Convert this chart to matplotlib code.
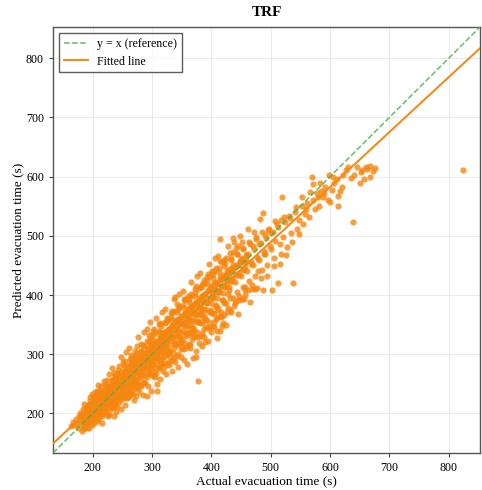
import numpy as np
import matplotlib.pyplot as plt

plt.rcParams['font.family'] = ['Liberation Serif', 'DejaVu Serif']

# (actual, predicted) evacuation times in seconds
points_a = [
    (163, 178), (166, 186), (168, 181),
    (171, 190), (173, 182), (175, 176), (176, 195), (178, 187), (179, 200),
    (181, 184), (182, 196), (183, 175), (184, 191), (185, 176), (186, 203), (187, 188), (188, 197), (189, 182), (189, 209),
    (190, 194), (191, 206), (192, 185), (193, 176), (193, 214), (194, 199), (195, 190), (196, 208), (196, 222), (197, 195),
    (198, 203), (198, 181), (199, 215), (199, 197),
    (200, 205), (201, 218), (201, 192), (202, 226), (203, 208), (204, 199), (204, 214), (205, 231), (206, 204), (206, 188),
    (207, 220), (208, 212), (208, 197), (209, 225), (209, 207), (210, 216),
    (210, 210), (211, 224), (211, 199), (212, 232), (212, 215), (213, 206), (214, 228), (214, 219), (215, 195), (215, 238),
    (216, 212), (216, 225), (217, 203), (218, 220), (218, 234), (219, 213), (219, 227), (219, 208),
    (220, 222), (220, 236), (221, 214), (222, 241), (222, 228), (223, 207), (224, 232), (224, 219), (225, 246), (225, 226),
    (226, 212), (227, 238), (227, 224), (228, 230), (228, 215), (229, 244), (229, 222), (226, 195),
    (230, 233), (230, 248), (231, 221), (232, 239), (232, 229), (233, 256), (233, 212), (234, 243), (235, 235), (235, 224),
    (236, 251), (236, 196), (237, 240), (237, 230), (238, 217), (238, 262), (239, 245), (239, 236),
    (240, 241), (240, 253), (241, 229), (242, 258), (242, 245), (243, 222), (244, 250), (244, 238), (245, 266), (246, 247),
    (246, 231), (247, 256), (247, 208), (248, 243), (249, 272), (249, 252),
    (250, 249), (250, 262), (251, 238), (252, 268), (252, 255), (253, 230), (254, 261), (254, 245), (255, 280), (256, 253),
    (256, 241), (257, 270), (258, 258), (258, 226), (259, 264), (259, 249),
    (260, 259), (260, 274), (261, 247), (262, 283), (262, 265), (263, 238), (264, 271), (264, 256), (265, 292), (266, 262),
    (266, 249), (267, 279), (268, 268), (268, 232), (269, 275), (269, 255),
    (270, 269), (270, 286), (271, 252), (272, 294), (272, 276), (273, 230), (274, 281), (274, 262), (275, 302), (276, 271),
    (277, 258), (277, 289), (278, 276), (279, 247), (279, 283),
    (280, 278), (280, 293), (281, 262), (282, 305), (282, 286), (283, 270), (284, 297), (284, 252), (285, 282), (286, 313),
    (286, 275), (287, 291), (288, 264), (288, 285), (289, 300),
    (290, 288), (290, 302), (291, 229), (292, 311), (292, 280), (293, 295), (294, 268), (294, 320), (295, 289), (296, 354),
    (296, 304), (297, 276), (297, 296), (298, 315), (299, 284),
    (300, 298), (300, 312), (301, 283), (302, 326), (302, 305), (303, 270), (304, 318), (304, 293), (305, 336), (306, 301),
    (307, 285), (307, 313), (308, 237), (309, 307),
    (310, 304), (310, 322), (311, 290), (312, 340), (312, 314), (313, 278), (314, 327), (314, 300), (315, 348), (316, 311),
    (317, 292), (317, 331), (318, 318), (319, 305),
    (320, 313), (320, 333), (321, 297), (322, 352), (322, 324), (323, 285), (324, 338), (324, 309), (325, 361), (326, 320),
    (327, 302), (328, 343), (329, 327),
    (330, 322), (330, 345), (331, 306), (332, 362), (332, 334), (333, 290), (334, 350), (335, 318), (336, 371), (336, 329),
    (337, 311), (338, 396), (339, 341),
    (340, 331), (340, 355), (341, 316), (342, 372), (343, 343), (344, 300), (345, 360), (345, 327), (346, 382), (347, 338),
    (348, 320), (349, 352),
    (350, 340), (350, 365), (351, 326), (352, 383), (353, 352), (354, 309), (355, 369), (355, 336), (356, 391), (357, 347),
    (358, 330), (359, 361),
    (360, 349), (360, 374), (361, 334), (362, 394), (363, 362), (364, 318), (365, 378), (365, 345), (366, 402), (367, 356),
    (368, 339), (369, 370),
    (370, 358), (370, 384), (371, 343), (372, 404), (373, 371), (374, 330), (375, 388), (376, 354), (377, 254), (377, 410),
    (378, 366), (379, 379),
    (380, 368), (380, 393), (381, 352), (382, 414), (383, 380), (384, 336), (385, 399), (386, 362), (387, 420), (388, 375),
    (389, 388),
    (390, 376), (390, 402), (391, 360), (392, 425), (393, 389), (394, 345), (395, 409), (396, 372), (397, 432), (398, 395),
    (400, 386), (400, 412), (401, 370), (402, 436), (403, 399), (404, 355), (405, 420), (406, 381), (407, 445), (408, 405),
    (410, 395), (410, 421), (411, 378), (412, 446), (413, 409), (414, 494), (415, 430), (416, 364), (418, 415),
    (420, 404), (421, 431), (422, 386), (423, 454), (424, 418), (426, 372), (427, 440), (429, 409),
    (430, 413), (431, 441), (432, 395), (433, 462), (434, 428), (436, 496), (437, 450), (438, 381),
    (440, 422), (441, 450), (443, 405), (444, 470), (446, 437), (447, 392), (449, 458),
    (450, 432), (451, 461), (453, 414), (454, 478), (456, 447), (457, 400), (459, 468),
    (460, 441), (462, 470), (464, 423), (465, 486), (467, 455), (469, 410),
    (470, 450), (472, 478), (473, 432), (475, 495), (477, 465), (479, 440),
    (481, 460), (483, 488), (485, 442), (487, 538), (488, 474),
    (490, 469), (492, 497), (494, 451), (496, 510), (498, 483),
    (500, 478), (502, 408), (504, 506), (506, 462), (508, 492),
    (512, 420), (513, 515), (515, 486), (518, 470),
    (519, 565), (521, 498), (524, 524), (527, 481),
    (532, 530), (535, 505), (537, 421),
    (541, 541), (544, 512), (548, 527),
    (552, 550), (555, 520), (558, 537),
    (561, 556), (565, 532), (569, 599),
    (572, 561), (575, 545), (578, 572),
    (581, 550), (584, 575), (588, 566),
    (592, 583), (596, 560),
    (598, 602), (603, 578), (607, 590),
    (612, 596), (617, 575),
    (622, 603), (627, 612),
    (631, 617), (635, 598), (638, 523),
    (641, 603), (646, 616),
    (652, 608), (657, 596),
    (663, 613), (668, 618),
    (672, 610),
    (825, 612),
]

points_b = [
    (180, 198), (182, 170), (183, 207), (185, 189), (186, 216), (187, 179), (188, 201), (189, 175),
    (190, 211), (191, 181), (193, 216), (194, 195), (195, 228), (197, 186), (197, 209), (198, 190), (199, 233),
    (200, 216), (202, 183), (202, 224), (203, 203), (205, 220), (205, 193), (207, 238), (208, 187), (209, 211),
    (210, 229), (211, 194), (212, 236), (214, 213), (214, 246), (215, 202), (216, 232), (217, 199), (219, 209),
    (220, 233), (221, 203), (223, 247), (223, 226), (224, 257), (226, 210), (226, 241), (227, 201), (228, 219),
    (230, 247), (231, 209), (232, 257), (233, 236), (235, 268), (235, 217), (236, 255), (238, 214), (238, 246), (239, 226),
    (240, 259), (241, 211), (243, 268), (243, 246), (244, 280), (246, 227), (246, 257), (247, 224), (248, 265), (249, 235),
    (250, 262), (252, 226), (252, 282), (253, 248), (254, 289), (255, 234), (257, 270), (257, 233), (258, 271), (259, 241),
    (260, 279), (261, 229), (262, 292), (264, 259), (264, 298), (265, 247), (266, 278), (268, 241), (268, 287), (269, 254),
    (270, 282), (271, 243), (273, 297), (273, 274), (274, 313), (276, 250), (276, 293), (277, 248), (278, 291), (279, 269),
    (280, 297), (282, 246), (282, 306), (283, 283), (285, 316), (285, 265), (286, 302), (287, 253), (289, 300), (289, 275),
    (290, 302), (291, 261), (292, 323), (294, 287), (294, 333), (295, 268), (297, 305), (297, 267), (298, 314), (299, 277),
    (300, 317), (302, 263), (302, 334), (303, 296), (304, 343), (306, 276), (306, 321), (307, 269), (309, 319), (309, 293),
    (310, 321), (311, 277), (313, 338), (313, 311), (314, 353), (315, 285), (317, 325), (317, 284), (318, 334), (319, 295),
    (320, 337), (322, 280), (322, 354), (323, 314), (325, 356), (325, 300), (326, 334), (328, 286), (328, 343), (329, 303),
    (330, 341), (331, 295), (333, 358), (333, 329), (334, 373), (336, 302), (336, 350), (337, 294), (339, 348), (339, 319),
    (340, 357), (342, 297), (342, 374), (343, 333), (345, 378), (345, 317), (346, 353), (348, 309), (348, 364), (349, 322),
    (350, 360), (351, 312), (353, 378), (353, 348), (354, 394), (356, 319), (356, 369), (357, 312), (359, 367), (359, 336),
    (360, 376), (362, 315), (362, 388), (363, 357), (365, 399), (365, 334), (366, 372), (368, 326), (368, 382), (369, 339),
    (370, 380), (371, 329), (373, 398), (373, 367), (374, 415), (376, 337), (376, 388), (377, 329), (379, 387), (379, 355),
    (380, 395), (382, 331), (382, 414), (383, 370), (385, 419), (385, 352), (386, 391), (388, 343), (388, 402), (389, 357),
    (390, 399), (391, 346), (393, 418), (393, 386), (394, 436), (396, 354), (396, 407), (397, 346), (399, 406), (399, 372),
    (400, 415), (402, 348), (402, 429), (403, 395), (405, 441), (405, 368), (406, 411), (408, 360), (408, 422), (409, 375),
    (410, 419), (411, 363), (413, 439), (413, 405), (414, 458), (416, 371), (416, 427), (417, 363), (419, 427), (419, 391),
    (420, 434), (422, 366), (422, 449), (423, 414), (425, 462), (425, 386), (426, 430), (428, 378), (428, 437),
    (430, 444), (432, 375), (433, 459), (434, 424), (436, 473), (436, 395), (437, 440), (439, 387),
    (440, 447), (442, 390), (443, 469), (445, 433), (445, 483), (446, 398), (448, 456),
    (450, 463), (452, 393), (453, 479), (455, 443), (456, 413), (458, 460),
    (460, 467), (462, 408), (464, 489), (466, 452), (468, 417),
    (470, 483), (473, 411), (475, 498), (478, 461),
    (480, 486), (483, 428), (486, 506), (489, 470),
    (491, 502), (494, 432), (497, 512),
    (501, 505), (505, 449), (508, 525),
    (511, 520), (515, 452), (518, 527),
    (522, 531), (526, 467),
    (531, 534), (536, 489),
    (543, 548), (547, 503),
    (553, 566), (560, 545), (566, 574), (571, 587), (579, 565), (583, 590), (590, 572), (600, 558),
    (605, 599), (613, 550), (613, 567), (620, 583), (650, 590), (654, 612), (660, 617), (667, 600), (676, 614),
    (374, 295), (389, 320), (409, 339), (418, 347), (456, 409),
]

# ragged outer edge of the cloud
points_c = [
    (203.4, 236), (206.7, 190), (201.6, 229), (208.3, 248),
    (212.6, 240), (216.1, 184), (218.7, 255), (213.8, 201),
    (221.4, 249), (225.9, 197), (228.2, 266), (223.3, 236),
    (231.7, 277), (234.4, 209), (237.6, 264), (239.2, 203),
    (242.3, 273), (244.9, 219), (247.5, 295), (241.1, 252),
    (251.8, 286), (254.2, 214), (256.6, 303), (258.9, 227),
    (261.5, 310), (263.7, 234), (267.3, 296), (269.4, 222),
    (271.2, 305), (274.6, 243), (276.8, 329), (278.1, 236),
    (281.7, 318), (283.9, 231), (286.4, 337), (288.6, 251),
    (291.3, 343), (293.8, 246), (296.2, 328), (298.7, 238),
    (301.9, 339), (304.3, 262), (306.9, 361), (308.2, 250),
    (311.4, 351), (313.6, 258), (316.8, 371), (318.9, 272),
    (321.1, 377), (323.7, 266), (326.5, 360), (328.4, 281),
    (331.5, 370), (334.2, 271), (336.7, 393), (338.8, 287),
    (341.3, 384), (343.9, 279), (346.2, 401), (348.6, 296),
    (351.6, 406), (354.1, 290), (356.7, 394), (358.3, 283),
    (361.2, 398), (363.8, 311), (366.4, 422), (368.9, 294),
    (371.7, 411), (373.3, 305), (376.1, 432), (378.6, 319),
    (381.4, 437), (383.6, 313), (386.9, 425), (388.2, 329),
    (391.8, 430), (394.5, 322), (396.3, 452), (398.7, 337),
    (401.2, 441), (403.7, 346), (406.5, 463), (408.8, 328),
    (411.6, 466), (414.9, 339), (417.2, 455), (419.4, 353),
    (421.3, 460), (424.2, 349), (427.8, 482),
    (431.4, 471), (433.9, 372), (437.6, 490),
    (441.8, 480), (444.3, 368), (447.7, 499),
    (451.5, 490), (455.2, 394),
    (461.3, 512), (465.8, 389),
    (471.6, 506), (476.4, 412),
    (482.2, 529), (486.7, 408),
]

# filling the core of the cloud
points_d = [
    (191.7, 203), (195.4, 213), (198.6, 196),
    (200.8, 204), (204.6, 222), (207.9, 201),
    (211.3, 219), (214.7, 207), (217.8, 235),
    (220.6, 227), (224.8, 214), (227.3, 246),
    (231.2, 236), (234.7, 252), (238.4, 228),
    (240.7, 246), (244.2, 262), (248.6, 239),
    (251.1, 257), (254.8, 272), (258.3, 248),
    (260.9, 266), (264.5, 283), (268.1, 258),
    (270.4, 273), (274.2, 291), (278.7, 268),
    (281.2, 285), (284.6, 302), (287.9, 276),
    (290.8, 294), (294.3, 311), (298.2, 286),
    (300.6, 303), (304.9, 321), (307.7, 295),
    (311.1, 313), (314.2, 330), (318.4, 303),
    (320.7, 322), (324.6, 341), (327.3, 312),
    (331.2, 331), (334.8, 350), (338.1, 321),
    (340.5, 340), (344.4, 359), (347.6, 329),
    (351.3, 351), (354.7, 368), (358.8, 338),
    (360.2, 358), (364.1, 379), (367.6, 347),
    (371.4, 369), (374.8, 388), (378.2, 356),
    (380.9, 377), (384.3, 398), (387.6, 365),
    (391.2, 388), (394.9, 407), (398.3, 374),
    (400.7, 396), (404.2, 416), (407.9, 383),
    (411.5, 405), (414.3, 426), (418.1, 392),
    (421.7, 416), (425.4, 433), (428.8, 402),
    (431.9, 424), (435.2, 445),
    (441.4, 433), (446.2, 450),
    (452.8, 444), (457.1, 455),
]

points = points_a + points_b + points_c + points_d
actual = np.array([p[0] for p in points], dtype=float)
predicted = np.array([p[1] for p in points], dtype=float)

# fitted line
fit_slope = 0.928
fit_intercept = 25.6
lims = (133, 853)

fig, ax = plt.subplots(figsize=(4.82, 4.90), dpi=100)
fig.subplots_adjust(left=0.110, right=0.996, top=0.945, bottom=0.0755)

ax.scatter(actual, predicted, s=20, color='#f5860f', alpha=0.8, linewidths=0, zorder=2)
ax.plot(lims, lims, '--', color='#4caf50', linewidth=1.1, alpha=0.85, label='y = x (reference)', zorder=3)
xs = np.array(lims, dtype=float)
ax.plot(xs, fit_slope * xs + fit_intercept, '-', color='#f5860f', linewidth=1.4, label='Fitted line', zorder=3)

ax.set_xlim(lims)
ax.set_ylim(lims)
ax.set_xticks([200, 300, 400, 500, 600, 700, 800])
ax.set_yticks([200, 300, 400, 500, 600, 700, 800])
ax.tick_params(labelsize=8.6, length=3, width=0.8, color='#444444')
ax.grid(True, color='#e6e6e6', linewidth=0.6)
ax.set_axisbelow(True)
for sp in ax.spines.values():
    sp.set_color('#555555')
    sp.set_linewidth(1.0)

ax.set_xlabel('Actual evacuation time (s)', fontsize=9.5, labelpad=1)
ax.set_ylabel('Predicted evacuation time (s)', fontsize=9.5, labelpad=1)
ax.set_title('TRF', fontsize=11, fontweight='bold', pad=8)

leg = ax.legend(loc='upper left', fontsize=8.6, frameon=True, fancybox=False, edgecolor='#333333')
leg.get_frame().set_linewidth(1.0)

fig.savefig('out.png', dpi=100)
